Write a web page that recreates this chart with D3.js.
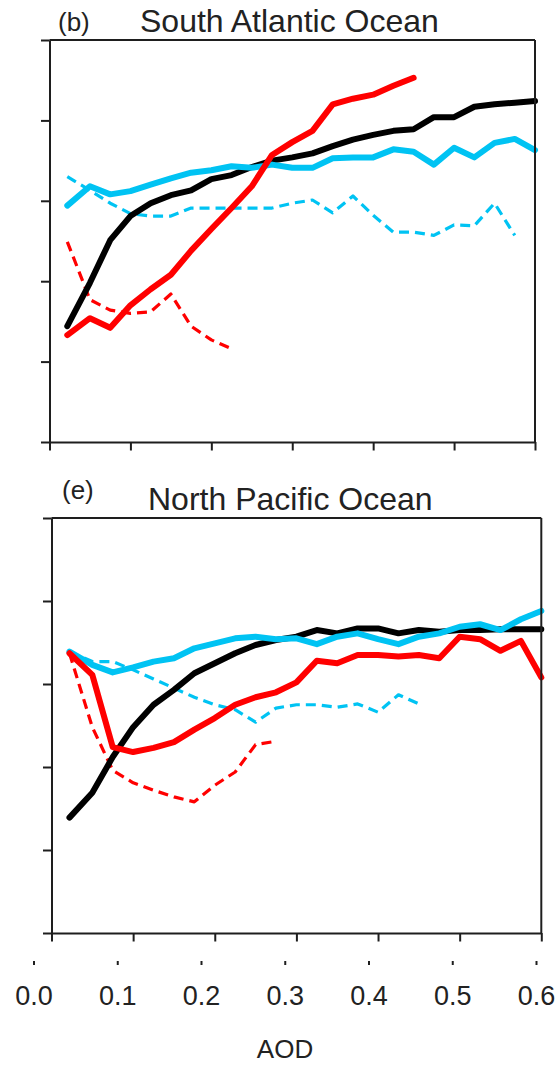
<!DOCTYPE html>
<html><head><meta charset="utf-8">
<script src="https://cdn.jsdelivr.net/npm/d3@7"></script>
<style>body{margin:0;background:#fff}svg{display:block}</style>
</head><body>
<svg id="chart" width="558" height="1067"></svg>
<script>
// ---- data (AOD bins) ----
const aod = [0.022,0.05,0.075,0.1,0.125,0.15,0.175,0.2,0.225,0.25,0.275,0.3,0.325,0.35,0.375,0.4,0.425,0.45,0.475,0.5,0.525,0.55,0.575,0.6];
const xTickValues = [0,0.1,0.2,0.3,0.4,0.5,0.6];
const xTickLabels = ["0.0","0.1","0.2","0.3","0.4","0.5","0.6"];
const yTickValues = [0,1,2,3,4,5];

// (b) South Atlantic Ocean
const saBlack   = [1.44,1.98,2.51,2.81,2.97,3.07,3.13,3.27,3.32,3.42,3.50,3.54,3.59,3.68,3.76,3.82,3.87,3.89,4.04,4.04,4.17,4.20,4.22,4.24];
const saCyan    = [2.94,3.18,3.08,3.12,3.20,3.28,3.35,3.38,3.43,3.41,3.45,3.41,3.41,3.53,3.54,3.54,3.64,3.61,3.45,3.66,3.54,3.72,3.77,3.63];
const saRed     = [1.33,1.54,1.42,1.70,1.90,2.08,2.38,2.65,2.91,3.18,3.57,3.73,3.87,4.20,4.27,4.32,4.43,4.53];
const saCyanDash= [3.30,3.13,2.97,2.84,2.81,2.81,2.91,2.91,2.91,2.91,2.91,2.97,3.01,2.85,3.06,2.82,2.61,2.61,2.57,2.70,2.69,2.97,2.57];
const saRedDash = [2.49,1.77,1.64,1.60,1.62,1.84,1.44,1.27,1.16];

// (e) North Pacific Ocean
const npBlack   = [1.39,1.69,2.12,2.48,2.75,2.93,3.13,3.25,3.37,3.47,3.53,3.57,3.65,3.61,3.67,3.67,3.61,3.65,3.63,3.65,3.65,3.66,3.66,3.66];
const npCyan    = [3.39,3.23,3.14,3.20,3.27,3.31,3.43,3.49,3.55,3.57,3.54,3.55,3.48,3.57,3.61,3.54,3.48,3.57,3.61,3.69,3.72,3.65,3.78,3.88];
const npRed     = [3.37,3.11,2.24,2.18,2.23,2.30,2.45,2.59,2.75,2.84,2.90,3.02,3.28,3.25,3.35,3.35,3.33,3.35,3.31,3.57,3.54,3.40,3.52,3.08];
const npCyanDash= [3.39,3.27,3.27,3.17,3.06,2.95,2.84,2.75,2.69,2.54,2.71,2.75,2.75,2.72,2.76,2.66,2.87,2.76];
const npRedDash = [3.37,2.48,1.96,1.81,1.72,1.64,1.58,1.78,1.94,2.27,2.31];

// ---- layout ----
const COL = {black:"#000000", red:"#ff0000", cyan:"#00c3f3", axis:"#1e1e1e", text:"#222222"};
const panels = [
  {tag:"(b)", title:"South Atlantic Ocean", x0:49.5, x1:535, y0:40, y1:442,
   tagX:58, tagY:31, titleX:140, titleY:32,
   series:[{v:saCyanDash,c:"cyan",d:true},{v:saRedDash,c:"red",d:true},{v:saBlack,c:"black"},{v:saCyan,c:"cyan"},{v:saRed,c:"red"}]},
  {tag:"(e)", title:"North Pacific Ocean", x0:51.5, x1:541.3, y0:518, y1:933,
   tagX:62, tagY:499, titleX:148, titleY:510,
   series:[{v:npCyanDash,c:"cyan",d:true},{v:npRedDash,c:"red",d:true},{v:npBlack,c:"black"},{v:npCyan,c:"cyan"},{v:npRed,c:"red"}]}
];

const svg = d3.select("#chart");
const font = "'Liberation Sans', Arial, sans-serif";

panels.forEach(p => {
  const x = d3.scaleLinear().domain([0,0.6]).range([p.x0,p.x1]);
  const y = d3.scaleLinear().domain([0,5]).range([p.y1,p.y0]);
  const g = svg.append("g");

  // series
  const line = d3.line().x((d,i)=>x(aod[i])).y(d=>y(d)).curve(d3.curveLinear);
  p.series.forEach(s => {
    g.append("path").datum(s.v)
      .attr("d", line)
      .attr("fill","none")
      .attr("stroke", COL[s.c])
      .attr("stroke-width", s.d ? 3.2 : 6)
      .attr("stroke-linejoin","round")
      .attr("stroke-linecap", s.d ? "butt" : "round")
      .attr("stroke-dasharray", s.d ? "10,6" : null);
  });

  // frame: top and right
  g.append("line").attr("x1",p.x0).attr("x2",p.x1).attr("y1",p.y0).attr("y2",p.y0)
    .attr("stroke",COL.axis).attr("stroke-width",2);
  g.append("line").attr("x1",p.x1).attr("x2",p.x1).attr("y1",p.y0).attr("y2",p.y1)
    .attr("stroke",COL.axis).attr("stroke-width",2);

  // axes
  const ax = g.append("g").attr("transform",`translate(0,${p.y1})`)
    .call(d3.axisBottom(x).tickValues(xTickValues).tickSize(8.5).tickSizeOuter(0).tickFormat(""));
  const ay = g.append("g").attr("transform",`translate(${p.x0},0)`)
    .call(d3.axisLeft(y).tickValues(yTickValues).tickSize(8.5).tickSizeOuter(0).tickFormat(""));
  [ax,ay].forEach(a => {
    a.selectAll("path,line").attr("stroke",COL.axis).attr("stroke-width",2);
  });

  // titles
  svg.append("text").attr("x",p.tagX).attr("y",p.tagY).text(p.tag)
    .attr("font-family",font).attr("font-size",26).attr("fill",COL.text);
  svg.append("text").attr("x",p.titleX).attr("y",p.titleY).text(p.title)
    .attr("font-family",font).attr("font-size",32).attr("fill",COL.text);
});

// separate label row under the bottom panel
const xl = d3.scaleLinear().domain([0,0.6]).range([33.5,536]);
const lab = svg.append("g").attr("transform","translate(0,961)")
  .call(d3.axisBottom(xl).tickValues(xTickValues).tickSize(4).tickSizeOuter(0)
        .tickFormat((d,i)=>xTickLabels[i]));
lab.select(".domain").remove();
lab.selectAll("line").attr("stroke",COL.axis).attr("stroke-width",2);
lab.selectAll("text").attr("font-family",font).attr("font-size",27).attr("fill",COL.text)
  .attr("y",44).attr("dy",0);

svg.append("text").attr("x",285).attr("y",1058).attr("text-anchor","middle").text("AOD")
  .attr("font-family",font).attr("font-size",26).attr("fill",COL.text);
</script>
</body></html>
